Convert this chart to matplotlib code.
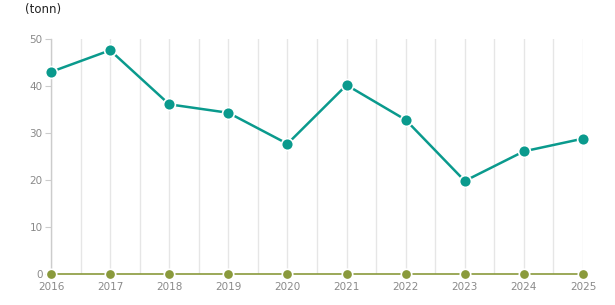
import numpy as np
import matplotlib.pyplot as plt

# data
years = [2016, 2017, 2018, 2019, 2020, 2021, 2022, 2023, 2024, 2025]
main_values = [43.0, 47.6, 36.1, 34.3, 27.7, 40.2, 32.8, 19.8, 26.1, 28.8]
zero_values = [0, 0, 0, 0, 0, 0, 0, 0, 0, 0]
yticks = [0, 10, 20, 30, 40, 50]

teal = '#0a9a8d'
olive = '#8a9a3c'
grey_text = '#8a8a8a'

fig = plt.figure(figsize=(6.15, 3.05), dpi=100)
ax = fig.add_axes([51 / 615, 31 / 305, 532 / 615, 235 / 305])

# vertical grid at years and half years
for x in np.arange(years[0], years[-1] + 0.01, 0.5):
    ax.axvline(x, color='#e6e6e6', lw=1, zorder=0)

ax.plot(years, zero_values, color=olive, lw=1.2, marker='o', ms=7.5,
        mec='white', mew=1.2, clip_on=False, zorder=3)
ax.plot(years, main_values, color=teal, lw=1.8, marker='o', ms=8.5,
        mec='white', mew=1.2, clip_on=False, zorder=4)

ax.set_xlim(years[0], years[-1])
ax.set_ylim(0, 50)
ax.set_xticks(years)
ax.set_yticks(yticks)
ax.tick_params(axis='x', length=0, colors=grey_text, labelsize=7.5, pad=6)
ax.tick_params(axis='y', length=4, color='#cccccc', colors=grey_text, labelsize=7.5, pad=2)
for s in ['top', 'right', 'bottom']:
    ax.spines[s].set_visible(False)
ax.spines['left'].set_color('#cccccc')
ax.spines['left'].set_linewidth(1)

fig.text(25 / 615, 1 - 9 / 305, '(tonn)', fontsize=8.5, color='#222222', va='center')

fig.savefig('out.png', dpi=100)
